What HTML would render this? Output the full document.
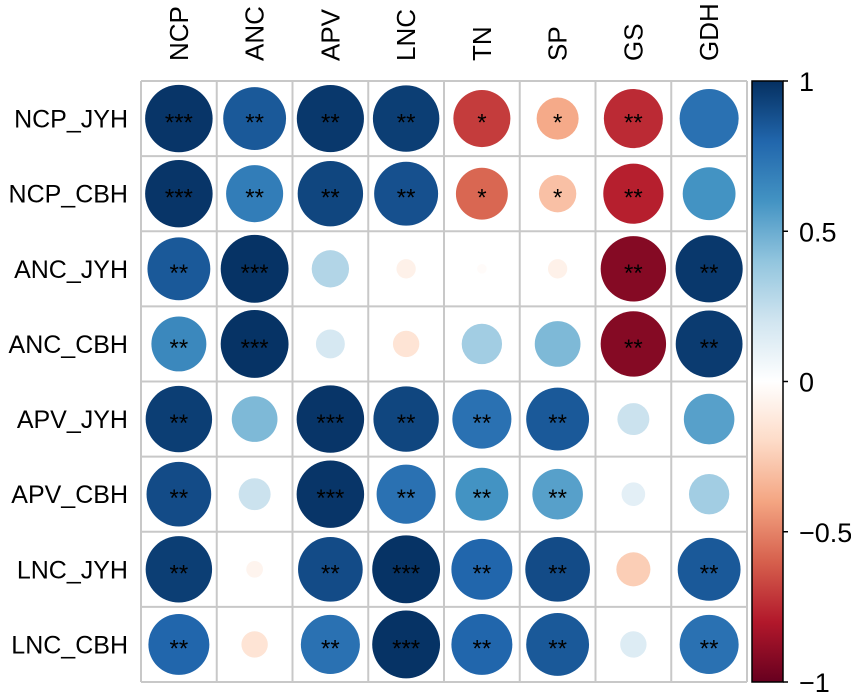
<!DOCTYPE html>
<html><head><meta charset="utf-8">
<style>
html,body{margin:0;padding:0;background:#fff;}
svg{display:block;font-family:"Liberation Sans",Arial,sans-serif;}
</style></head>
<body>
<svg id="chart" width="851" height="698" viewBox="0 0 851 698" xmlns="http://www.w3.org/2000/svg">
<defs>
<linearGradient id="cbgrad" x1="0" y1="1" x2="0" y2="0">
<stop offset="0" stop-color="#67001F"/><stop offset="0.1" stop-color="#B2182B"/><stop offset="0.2" stop-color="#D6604D"/><stop offset="0.3" stop-color="#F4A582"/><stop offset="0.4" stop-color="#FDDBC7"/><stop offset="0.5" stop-color="#FFFFFF"/><stop offset="0.6" stop-color="#D1E5F0"/><stop offset="0.7" stop-color="#92C5DE"/><stop offset="0.8" stop-color="#4393C3"/><stop offset="0.9" stop-color="#2166AC"/><stop offset="1" stop-color="#053061"/>
</linearGradient>
</defs>
<g id="grid"></g>
<g id="marks"></g>
<g id="labels"></g>
<g id="colorbar"></g>
</svg>
<script>
const cols = ["NCP","ANC","APV","LNC","TN","SP","GS","GDH"];
const rows = ["NCP_JYH","NCP_CBH","ANC_JYH","ANC_CBH","APV_JYH","APV_CBH","LNC_JYH","LNC_CBH"];
const r_NCP_JYH = [0.98,0.85,0.97,0.95,-0.7,-0.38,-0.75,0.75];
const r_NCP_CBH = [0.98,0.7,0.92,0.88,-0.58,-0.3,-0.78,0.6];
const r_ANC_JYH = [0.85,0.99,0.3,-0.08,-0.02,-0.08,-0.92,0.97];
const r_ANC_CBH = [0.65,0.99,0.18,-0.15,0.35,0.45,-0.92,0.96];
const r_APV_JYH = [0.95,0.45,0.98,0.92,0.75,0.85,0.22,0.55];
const r_APV_CBH = [0.9,0.22,0.98,0.75,0.6,0.55,0.12,0.35];
const r_LNC_JYH = [0.95,-0.06,0.9,0.99,0.8,0.9,-0.25,0.85];
const r_LNC_CBH = [0.8,-0.15,0.75,0.99,0.8,0.85,0.15,0.75];
const values = [r_NCP_JYH,r_NCP_CBH,r_ANC_JYH,r_ANC_CBH,r_APV_JYH,r_APV_CBH,r_LNC_JYH,r_LNC_CBH];
const stars = [
 ["***","**","**","**","*","*","**",""],
 ["***","**","**","**","*","*","**",""],
 ["**","***","","","","","**","**"],
 ["**","***","","","","","**","**"],
 ["**","","***","**","**","**","",""],
 ["**","","***","**","**","**","",""],
 ["**","","**","***","**","**","","**"],
 ["**","","**","***","**","**","","**"]
];
const cbTicks = [1,0.5,0,-0.5,-1];
const cbTickLabels = ["1","0.5","0","\u22120.5","\u22121"];

const NS="http://www.w3.org/2000/svg";
const L=141,T=81,R=747,B=682;
const cw=(R-L)/cols.length, ch=(B-T)/rows.length;
const xc=i=>L+cw*(i+0.5), yc=j=>T+ch*(j+0.5);
const palette=["#67001F","#B2182B","#D6604D","#F4A582","#FDDBC7","#FFFFFF","#D1E5F0","#92C5DE","#4393C3","#2166AC","#053061"];
function hex(h){return [1,3,5].map(k=>parseInt(h.substr(k,2),16));}
function color(v){const t=(v+1)/2*10;let i=Math.min(9,Math.floor(t));const f=t-i;const a=hex(palette[i]),b=hex(palette[i+1]);return "rgb("+a.map((x,k)=>Math.round(x+(b[k]-x)*f)).join(",")+")";}
function mk(tag,attrs,parent){const e=document.createElementNS(NS,tag);for(const k in attrs)e.setAttribute(k,attrs[k]);parent.appendChild(e);return e;}
const grid=document.getElementById("grid"),marks=document.getElementById("marks"),labels=document.getElementById("labels"),cb=document.getElementById("colorbar");
for(let i=0;i<=cols.length;i++){const x=L+cw*i;const ln=mk("line",{x1:x,y1:T,x2:x,y2:B,stroke:"#c8c8c8","stroke-width":2},grid);

}
for(let j=0;j<=rows.length;j++){const y=T+ch*j;const ln=mk("line",{x1:L,y1:y,x2:R,y2:y,stroke:"#c8c8c8","stroke-width":2},grid);

}
values.forEach((row,j)=>row.forEach((v,i)=>{
 const rad=0.45*cw*Math.sqrt(Math.abs(v));
 const c=mk("circle",{cx:xc(i),cy:yc(j),r:rad,fill:color(v)},marks);
 
 
 if(stars[j][i]){const t=mk("text",{x:xc(i),y:yc(j)+12,"text-anchor":"middle","font-size":24,fill:"#000"},marks);t.textContent=stars[j][i];
 
 }
}));
cols.forEach((c,i)=>{const t=mk("text",{x:0,y:0,"font-size":26,fill:"#000",transform:"translate("+(xc(i)+9)+",61) rotate(-90)"},labels);t.textContent=c;

});
rows.forEach((r,j)=>{const t=mk("text",{x:128,y:yc(j)+9,"text-anchor":"end","font-size":25,fill:"#000"},labels);t.textContent=r;

});
const cbx=752,cbw=31;
const rect=mk("rect",{x:cbx,y:T,width:cbw,height:B-T,fill:"url(#cbgrad)",stroke:"#000","stroke-width":1.5},cb);


const cy=v=>B-(v+1)/2*(B-T);
cbTicks.forEach((v,k)=>{const y=cy(v);mk("line",{x1:cbx+cbw,y1:y,x2:cbx+cbw+5,y2:y,stroke:"#000","stroke-width":1.5},cb);
const t=mk("text",{x:799,y:y+10,"font-size":27,fill:"#000"},cb);t.textContent=cbTickLabels[k];

});
</script>
</body></html>
